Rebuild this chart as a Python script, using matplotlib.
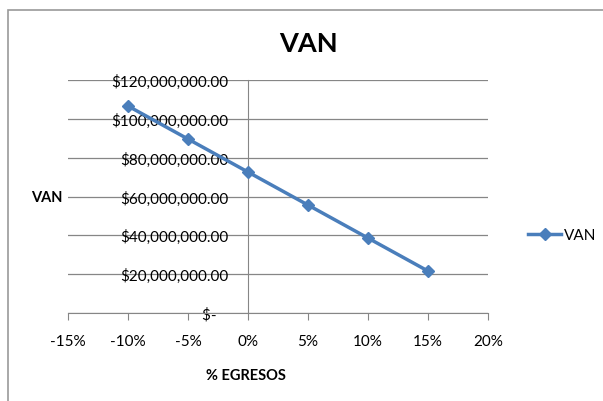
import matplotlib
matplotlib.use("Agg")
import matplotlib.pyplot as plt
from matplotlib.patches import Rectangle

# 数据
egresos = [-10, -5, 0, 5, 10, 15]  # %
van = [106.6e6, 89.6e6, 72.6e6, 55.6e6, 38.6e6, 21.6e6]
x_ticks = [-15, -10, -5, 0, 5, 10, 15, 20]
y_ticks = [0, 20e6, 40e6, 60e6, 80e6, 100e6, 120e6]

plt.rcParams['font.family'] = ['Lato', 'DejaVu Sans']

fig = plt.figure(figsize=(6.03, 4.02), dpi=100)
fig.patch.set_facecolor('white')

# 外框
fig.add_artist(Rectangle((8 / 603, -0.1), 1.2, 1 - 11 / 402 + 0.1, transform=fig.transFigure,
                         fill=False, edgecolor='#9a9a9a', linewidth=1.2))

ax = fig.add_axes([68 / 603, 1 - 314 / 402, 420 / 603, 233 / 402])
ax.plot(egresos, van, color='#4A7EBB', linewidth=2.5, marker='D', markersize=6,
        label='VAN', zorder=3)

ax.set_xlim(-15, 20)
ax.set_ylim(0, 120e6)
ax.set_xticks(x_ticks)
ax.set_xticklabels([f'{v}%' for v in x_ticks])
ax.set_yticks(y_ticks)
ax.set_yticklabels(['$-   ' if v == 0 else f'${v:,.2f}' for v in y_ticks])

ax.grid(axis='y', color='#868686', linewidth=0.9)
ax.set_axisbelow(True)
for s in ['top', 'right']:
    ax.spines[s].set_visible(False)
ax.spines['left'].set_position(('data', 0))
ax.spines['left'].set_color('#868686')
ax.spines['bottom'].set_color('#868686')
ax.tick_params(axis='y', length=0, pad=14, labelsize=11, colors='black')
ax.tick_params(axis='x', length=5, direction='out', color='#868686', pad=10, labelsize=11)

fig.text(308 / 603, 1 - 44 / 402, 'VAN', ha='center', va='center', fontsize=19.5, fontweight='bold')
fig.text(47 / 603, 1 - 198 / 402, 'VAN', ha='center', va='center', fontsize=10.5, fontweight='bold')
fig.text(246 / 603, 1 - 376 / 402, '% EGRESOS', ha='center', va='center', fontsize=10.5, fontweight='bold')

fig.legend(loc='center left', bbox_to_anchor=(514 / 603, 1 - 236 / 402), frameon=False,
           fontsize=11, handlelength=2.2, handletextpad=0.2)

fig.savefig('out.png', dpi=100, facecolor='white')
